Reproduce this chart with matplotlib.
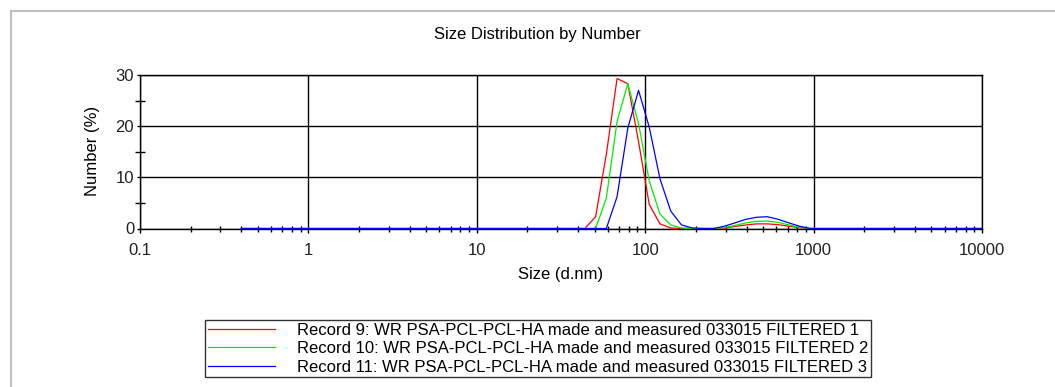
import matplotlib
matplotlib.use("Agg")
import matplotlib.pyplot as plt
from matplotlib.lines import Line2D
from matplotlib.ticker import LogLocator, FixedLocator, NullFormatter

plt.rcParams['font.family'] = ['Liberation Sans', 'DejaVu Sans']

# size bins (d.nm)
sizes = [0.4, 0.4632, 0.5365, 0.6213, 0.7195, 0.8332, 0.9649, 1.117, 1.294, 1.499,
         1.736, 2.01, 2.328, 2.696, 3.122, 3.615, 4.187, 4.849, 5.615, 6.503,
         7.531, 8.721, 10.1, 11.7, 13.54, 15.69, 18.17, 21.04, 24.36, 28.21,
         32.67, 37.84, 43.82, 50.75, 58.77, 68.06, 78.82, 91.28, 105.7, 122.4,
         141.8, 164.2, 190.1, 220.2, 255.0, 295.3, 342.0, 396.1, 458.7, 531.2,
         615.1, 712.4, 825.0, 955.4, 1106, 1281, 1484, 1718, 1990, 2305,
         2669, 3091, 3580, 4145, 4801, 5560, 6439, 7456, 8635, 10000]

rec9 = [0, 0, 0, 0, 0, 0, 0, 0, 0, 0,
        0, 0, 0, 0, 0, 0, 0, 0, 0, 0,
        0, 0, 0, 0, 0, 0, 0, 0, 0, 0,
        0, 0, 0, 2.3, 14.5, 29.3, 28.3, 17.0, 4.7, 0.9,
        0.1, 0, 0, 0, 0, 0.1, 0.4, 0.7, 0.9, 0.9,
        0.75, 0.45, 0.15, 0, 0, 0, 0, 0, 0, 0,
        0, 0, 0, 0, 0, 0, 0, 0, 0, 0]

rec10 = [0, 0, 0, 0, 0, 0, 0, 0, 0, 0,
         0, 0, 0, 0, 0, 0, 0, 0, 0, 0,
         0, 0, 0, 0, 0, 0, 0, 0, 0, 0,
         0, 0, 0, 0, 5.9, 20.9, 28.3, 20.5, 9.3, 2.8,
         0.7, 0.1, 0, 0, 0, 0.2, 0.6, 1.1, 1.4, 1.45,
         1.2, 0.7, 0.25, 0, 0, 0, 0, 0, 0, 0,
         0, 0, 0, 0, 0, 0, 0, 0, 0, 0]

rec11 = [0, 0, 0, 0, 0, 0, 0, 0, 0, 0,
         0, 0, 0, 0, 0, 0, 0, 0, 0, 0,
         0, 0, 0, 0, 0, 0, 0, 0, 0, 0,
         0, 0, 0, 0, 0, 6.2, 19.6, 27.0, 19.8, 9.7,
         3.4, 0.7, 0.1, 0, 0, 0.45, 1.1, 1.8, 2.2, 2.3,
         1.8, 1.1, 0.45, 0, 0, 0, 0, 0, 0, 0,
         0, 0, 0, 0, 0, 0, 0, 0, 0, 0]

labels = ["Record 9: WR PSA-PCL-PCL-HA made and measured 033015 FILTERED 1",
          "Record 10: WR PSA-PCL-PCL-HA made and measured 033015 FILTERED 2",
          "Record 11: WR PSA-PCL-PCL-HA made and measured 033015 FILTERED 3"]
colors = ['#ff0000', '#00f000', '#0000ff']

W, H = 1055, 387
FS = 12
fig = plt.figure(figsize=(W / 100, H / 100), dpi=100)
ax = fig.add_axes([140 / W, 1 - 228.5 / H, (982 - 140) / W, (228.5 - 75) / H])

for y, c, lab in zip([rec9, rec10, rec11], colors, labels):
    ax.plot(sizes, y, color=c, lw=0.9, label=lab, zorder=3)

ax.set_xscale('log')
ax.set_xlim(0.1, 10000)
ax.set_ylim(0, 30)
ax.set_xticks([0.1, 1, 10, 100, 1000, 10000])
ax.set_xticklabels(['0.1', '1', '10', '100', '1000', '10000'])
ax.xaxis.set_minor_locator(LogLocator(base=10, subs=range(2, 10)))
ax.xaxis.set_minor_formatter(NullFormatter())
ax.set_yticks([0, 10, 20, 30])
ax.yaxis.set_minor_locator(FixedLocator([5, 15, 25]))
ax.grid(True, which='major', color='black', lw=1)
ax.set_axisbelow(True)
ax.tick_params(which='major', direction='out', width=1, labelsize=FS, labelcolor='#222222')
ax.tick_params(axis='x', which='major', length=3, pad=7.5)
ax.tick_params(axis='y', which='major', length=2.2, pad=2)
ax.tick_params(axis='x', which='minor', direction='inout', length=5, width=1)
ax.tick_params(axis='y', which='minor', direction='inout', length=6.5, width=1)
for s in ax.spines.values():
    s.set_color('black')
    s.set_linewidth(1)

fig.text(561 / W, 1 - 274 / H, 'Size (d.nm)', ha='center', va='center', fontsize=FS)
fig.text(92.3 / W, 1 - 151 / H, 'Number (%)', ha='center', va='center', rotation=90, fontsize=FS)
fig.text(537 / W, 1 - 35 / H, 'Size Distribution by Number', ha='center', va='center', fontsize=FS)

leg = fig.legend(loc='upper left', bbox_to_anchor=(205 / W, 1 - 320 / H), fontsize=FS,
                 frameon=True, fancybox=False, edgecolor='black', handlelength=4.04,
                 handletextpad=1.3, labelspacing=0.2, borderpad=0.17, borderaxespad=0)
leg.get_frame().set_linewidth(1)

# grey panel border (top and left)
fig.add_artist(Line2D([11 / W, 11 / W], [0, 1 - 11 / H], color='#c0c0c0', lw=1.5))
fig.add_artist(Line2D([11 / W, 1], [1 - 11 / H, 1 - 11 / H], color='#c0c0c0', lw=1.5))

fig.savefig('out.png', dpi=100)
